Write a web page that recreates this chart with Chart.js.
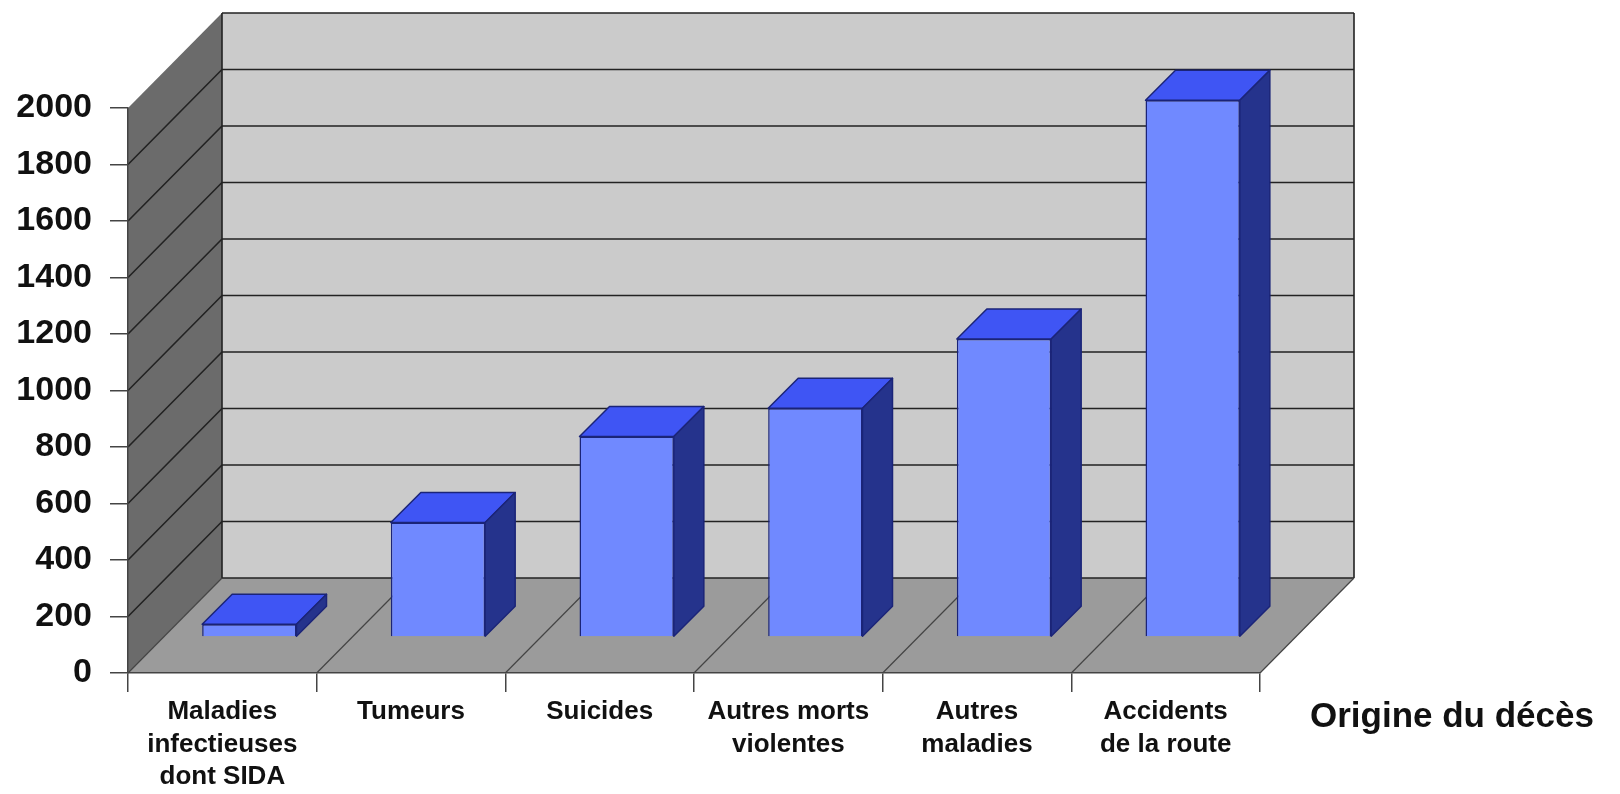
<!DOCTYPE html>
<html><head><meta charset="utf-8">
<script src="https://cdn.jsdelivr.net/npm/chart.js@4/dist/chart.umd.min.js"></script>
<style>html,body{margin:0;padding:0;background:#fff}#wrap{width:1620px;height:794px;position:relative}</style>
</head><body><div id="wrap"><canvas id="c"></canvas></div>
<script>
// ---- data ----
const categories = [
  ['Maladies', 'infectieuses', 'dont SIDA'],
  'Tumeurs',
  'Suicides',
  ['Autres morts', 'violentes'],
  ['Autres', 'maladies'],
  ['Accidents', 'de la route']
];
const deaths = [45, 405, 710, 810, 1055, 1900];
const yMin = 0, yMax = 2000, yStep = 200;
const xAxisTitle = 'Origine du décès';

// ---- 3D look ----
const WALL_DX = 94, WALL_DY = 95;      // depth of the box
const BAR_SHIFT_X = 27, BAR_SHIFT_Y = 36; // bar plane inside the box
const BAR_DX = 30, BAR_DY = 30;        // bar depth
const FONT = "'Liberation Sans', Arial, sans-serif";

const walls3d = {
  id: 'walls3d',
  beforeDraw(chart) {
    const {ctx, chartArea: a, scales: {x, y}} = chart;
    const y0 = y.getPixelForValue(yMin), yT = y.getPixelForValue(yMax);
    ctx.save();
    // side wall
    ctx.fillStyle = '#6b6b6b';
    ctx.beginPath();
    ctx.moveTo(a.left, yT); ctx.lineTo(a.left + WALL_DX, yT - WALL_DY);
    ctx.lineTo(a.left + WALL_DX, y0 - WALL_DY); ctx.lineTo(a.left, y0);
    ctx.closePath(); ctx.fill();
    // back wall
    ctx.fillStyle = '#cbcbcb';
    ctx.fillRect(a.left + WALL_DX, yT - WALL_DY, a.right - a.left, y0 - yT);
    // floor
    ctx.fillStyle = '#9b9b9b';
    ctx.beginPath();
    ctx.moveTo(a.left, y0); ctx.lineTo(a.right, y0);
    ctx.lineTo(a.right + WALL_DX, y0 - WALL_DY); ctx.lineTo(a.left + WALL_DX, y0 - WALL_DY);
    ctx.closePath(); ctx.fill();
    // grid lines on side and back wall
    ctx.strokeStyle = '#222'; ctx.lineWidth = 1.6;
    for (let v = yMin; v <= yMax; v += yStep) {
      const py = y.getPixelForValue(v);
      ctx.beginPath();
      if (v > yMin && v < yMax) { ctx.moveTo(a.left, py); ctx.lineTo(a.left + WALL_DX, py - WALL_DY); }
      ctx.moveTo(a.left + WALL_DX, py - WALL_DY); ctx.lineTo(a.right + WALL_DX, py - WALL_DY);
      ctx.stroke();
    }
    // back wall vertical borders
    ctx.beginPath();
    ctx.moveTo(a.left + WALL_DX, yT - WALL_DY); ctx.lineTo(a.left + WALL_DX, y0 - WALL_DY);
    ctx.moveTo(a.right + WALL_DX, yT - WALL_DY); ctx.lineTo(a.right + WALL_DX, y0 - WALL_DY);
    ctx.stroke();
    // floor category lines
    ctx.strokeStyle = '#444'; ctx.lineWidth = 1.2;
    const n = categories.length;
    const step = (a.right - a.left) / n;
    for (let i = 0; i <= n; i++) {
      const px = a.left + i * step;
      ctx.beginPath(); ctx.moveTo(px, y0); ctx.lineTo(px + WALL_DX, y0 - WALL_DY); ctx.stroke();
    }
    ctx.restore();
  },
  beforeDatasetsDraw(chart) {
    const ctx = chart.ctx;
    ctx.save();
    ctx.translate(BAR_SHIFT_X, -BAR_SHIFT_Y);
    const meta = chart.getDatasetMeta(0);
    ctx.lineWidth = 1.5; ctx.strokeStyle = '#1b2478'; ctx.lineJoin = 'round';
    meta.data.forEach(el => {
      const {x, y, base, width} = el.getProps(['x', 'y', 'base', 'width'], true);
      const l = x - width / 2, r = x + width / 2;
      // top face
      ctx.fillStyle = '#3f55f4';
      ctx.beginPath();
      ctx.moveTo(l, y); ctx.lineTo(r, y); ctx.lineTo(r + BAR_DX, y - BAR_DY); ctx.lineTo(l + BAR_DX, y - BAR_DY);
      ctx.closePath(); ctx.fill(); ctx.stroke();
      // side face
      ctx.fillStyle = '#25338c';
      ctx.beginPath();
      ctx.moveTo(r, y); ctx.lineTo(r + BAR_DX, y - BAR_DY); ctx.lineTo(r + BAR_DX, base - BAR_DY); ctx.lineTo(r, base);
      ctx.closePath(); ctx.fill(); ctx.stroke();
    });
  },
  afterDatasetsDraw(chart) {
    chart.ctx.restore();
  },
  afterDraw(chart) {
    const {ctx, chartArea: a} = chart;
    ctx.save();
    ctx.font = 'bold 35px ' + FONT;
    ctx.fillStyle = '#111';
    ctx.textAlign = 'left'; ctx.textBaseline = 'alphabetic';
    ctx.fillText(xAxisTitle, a.right + 50, 727);
    ctx.restore();
  }
};

new Chart(document.getElementById('c'), {
  type: 'bar',
  data: {
    labels: categories,
    datasets: [{
      data: deaths,
      backgroundColor: '#7089ff',
      borderColor: '#1b2478',
      borderWidth: 1.5,
      categoryPercentage: 1,
      barPercentage: 0.5,
      clip: false
    }]
  },
  options: {
    responsive: true,
    maintainAspectRatio: false,
    devicePixelRatio: 1,
    animation: false,
    layout: {padding: {top: 108, right: 360, bottom: 0, left: 0}},
    plugins: {legend: {display: false}, tooltip: {enabled: false}},
    scales: {
      x: {
        grid: {drawOnChartArea: false, tickLength: 19, color: '#444', lineWidth: 1.5, offset: true},
        border: {display: true, color: '#444', width: 1.5},
        ticks: {color: '#111', padding: 4, maxRotation: 0, autoSkip: false,
          font: {family: FONT, size: 26, weight: 'bold', lineHeight: 1.25}},
        afterFit(s) { s.height = 121; }
      },
      y: {
        min: yMin, max: yMax,
        grid: {drawOnChartArea: false, tickLength: 18, color: '#444', lineWidth: 1.5},
        border: {display: true, color: '#444', width: 1.5},
        ticks: {stepSize: yStep, color: '#111', padding: 18,
          callback: v => String(v),
          font: {family: FONT, size: 34, weight: 'bold'}},
        afterFit(s) { s.width = 128; }
      }
    }
  },
  plugins: [walls3d]
});
</script>
</body></html>
